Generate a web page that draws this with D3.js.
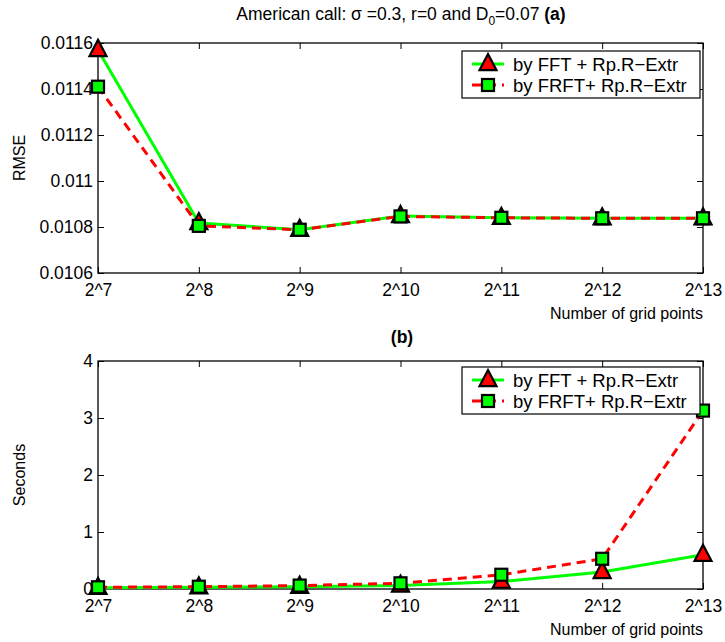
<!DOCTYPE html>
<html>
<head>
<meta charset="utf-8">
<script src="https://cdn.jsdelivr.net/npm/d3@7"></script>
<style>
  html, body { margin: 0; padding: 0; background: #fff; }
  svg { display: block; font-family: "Liberation Sans", Arial, Helvetica, sans-serif; }
</style>
</head>
<body>
<svg id="fig" width="725" height="642"></svg>
<script>
// Grid sizes (powers of two) and their tick labels
const gridExp = [7, 8, 9, 10, 11, 12, 13];
const gridLabels = ["2^7", "2^8", "2^9", "2^10", "2^11", "2^12", "2^13"];

// Panel (a): RMSE
const rmseFFT  = [0.01157, 0.010817, 0.010788, 0.010848, 0.010840, 0.010838, 0.010838];
const rmseFRFT = [0.01141, 0.010805, 0.010788, 0.010846, 0.010840, 0.010838, 0.010838];
const rmseTicks = [0.0106, 0.0108, 0.011, 0.0112, 0.0114, 0.0116];
const rmseTickLabels = ["0.0106", "0.0108", "0.011", "0.0112", "0.0114", "0.0116"];

// Panel (b): CPU time in seconds
const secFFT  = [0.02, 0.03, 0.04, 0.06, 0.13, 0.30, 0.60];
const secFRFT = [0.03, 0.04, 0.06, 0.10, 0.25, 0.53, 3.13];
const secTicks = [0, 1, 2, 3, 4];
const secTickLabels = ["0", "1", "2", "3", "4"];

const seriesNames = ["by FFT + Rp.R\u2212Extr", "by FRFT+ Rp.R\u2212Extr"];

const svg = d3.select("#fig");
const GREEN = "#00ff00", RED = "#ff0000";
const left = 98, right = 703;
const TICK_FS = 17.5, LEG_FS = 18.5, LABEL_FS = 16, TITLE_FS = 17.5;

const x = d3.scaleLinear().domain([7, 13]).range([left, right]);

function triPath(s) {
  // upward triangle centred on the point
  const h = s * 0.95, w = s;
  return `M0,${-h * 0.62}L${w / 2},${h * 0.38}L${-w / 2},${h * 0.38}Z`;
}

function panel(opts) {
  const g = svg.append("g");
  const y = d3.scaleLinear().domain(opts.domain).range([opts.bottom, opts.top]);

  // axes box
  g.append("rect")
    .attr("x", left).attr("y", opts.top)
    .attr("width", right - left).attr("height", opts.bottom - opts.top)
    .attr("fill", "none").attr("stroke", "#000").attr("stroke-width", 1.3);

  const tl = 6;
  // x ticks (inward, bottom and top)
  const xAxisB = d3.axisBottom(x).tickValues(gridExp).tickSize(-tl).tickFormat((d, i) => gridLabels[i]).tickPadding(11);
  const xg = g.append("g").attr("transform", `translate(0,${opts.bottom})`).call(xAxisB);
  xg.select(".domain").remove();
  xg.selectAll("text").attr("font-size", TICK_FS).attr("fill", "#000").attr("font-family", "Liberation Sans, Arial, sans-serif");
  xg.selectAll("line").attr("stroke", "#000");
  const xAxisT = d3.axisTop(x).tickValues(gridExp).tickSize(-tl).tickFormat("");
  const xgt = g.append("g").attr("transform", `translate(0,${opts.top})`).call(xAxisT);
  xgt.select(".domain").remove();
  xgt.selectAll("line").attr("stroke", "#000");

  // y ticks (inward, left and right)
  const yAxisL = d3.axisLeft(y).tickValues(opts.ticks).tickSize(-tl)
    .tickFormat((d, i) => opts.tickLabels[i]);
  const yg = g.append("g").attr("transform", `translate(${left},0)`).call(yAxisL);
  yg.select(".domain").remove();
  yg.selectAll("text").attr("font-size", TICK_FS).attr("fill", "#000").attr("x", -5).attr("font-family", "Liberation Sans, Arial, sans-serif");
  yg.selectAll("line").attr("stroke", "#000");
  const yAxisR = d3.axisRight(y).tickValues(opts.ticks).tickSize(-tl).tickFormat("");
  const ygr = g.append("g").attr("transform", `translate(${right},0)`).call(yAxisR);
  ygr.select(".domain").remove();
  ygr.selectAll("line").attr("stroke", "#000");

  // y label
  g.append("text")
    .attr("transform", `translate(25,${(opts.top + opts.bottom) / 2}) rotate(-90)`)
    .attr("text-anchor", "middle").attr("font-size", LABEL_FS).text(opts.ylabel);

  // x label
  g.append("text")
    .attr("x", right).attr("y", opts.bottom + 46)
    .attr("text-anchor", "end").attr("font-size", LABEL_FS).text("Number of grid points");

  const line = d3.line().x((d, i) => x(gridExp[i])).y(d => y(d));

  // FFT series: green solid with red triangles
  g.append("path").datum(opts.fft).attr("d", line)
    .attr("fill", "none").attr("stroke", GREEN).attr("stroke-width", 3);
  g.selectAll(".tri").data(opts.fft).enter().append("path")
    .attr("transform", (d, i) => `translate(${x(gridExp[i])},${y(d)})`)
    .attr("d", triPath(17)).attr("fill", RED).attr("stroke", "#000").attr("stroke-width", 2.2)
    .attr("stroke-linejoin", "miter");

  // FRFT series: red dashed with green squares
  g.append("path").datum(opts.frft).attr("d", line)
    .attr("fill", "none").attr("stroke", RED).attr("stroke-width", 3).attr("stroke-dasharray", "9,6");
  g.selectAll(".sq").data(opts.frft).enter().append("rect")
    .attr("x", (d, i) => x(gridExp[i]) - 6).attr("y", d => y(d) - 6)
    .attr("width", 12).attr("height", 12)
    .attr("fill", GREEN).attr("stroke", "#000").attr("stroke-width", 2.2);

  // legend
  const lx = 462, ly = opts.legendTop, lw = 238, lh = 47;
  const lg = g.append("g");
  lg.append("rect").attr("x", lx).attr("y", ly).attr("width", lw).attr("height", lh)
    .attr("fill", "#fff").attr("stroke", "#000").attr("stroke-width", 1.2);
  const rows = [ly + 13, ly + 34];
  // row 1
  lg.append("line").attr("x1", lx + 10).attr("x2", lx + 42).attr("y1", rows[0]).attr("y2", rows[0])
    .attr("stroke", GREEN).attr("stroke-width", 3);
  lg.append("path").attr("transform", `translate(${lx + 26},${rows[0]})`).attr("d", triPath(17))
    .attr("fill", RED).attr("stroke", "#000").attr("stroke-width", 2.2);
  lg.append("text").attr("x", lx + 51).attr("y", rows[0] + 6.5).attr("font-size", LEG_FS).text(seriesNames[0]);
  // row 2
  lg.append("line").attr("x1", lx + 10).attr("x2", lx + 42).attr("y1", rows[1]).attr("y2", rows[1])
    .attr("stroke", RED).attr("stroke-width", 3).attr("stroke-dasharray", "9,6");
  lg.append("rect").attr("x", lx + 26 - 6).attr("y", rows[1] - 6).attr("width", 12).attr("height", 12)
    .attr("fill", GREEN).attr("stroke", "#000").attr("stroke-width", 2.2);
  lg.append("text").attr("x", lx + 51).attr("y", rows[1] + 6.5).attr("font-size", LEG_FS).text(seriesNames[1]);
}

// titles
const t = svg.append("text").attr("x", 401).attr("y", 20).attr("text-anchor", "middle").attr("font-size", TITLE_FS);
t.append("tspan").text("American call: \u03c3 =0.3, r=0 and D");
t.append("tspan").attr("font-size", 12).attr("dy", 5).text("0");
t.append("tspan").attr("dy", -5).text("=0.07 ");
t.append("tspan").attr("font-weight", "bold").text("(a)");

svg.append("text").attr("x", 402).attr("y", 343).attr("text-anchor", "middle")
  .attr("font-size", TITLE_FS).attr("font-weight", "bold").text("(b)");

panel({ top: 43, bottom: 273, domain: [0.0106, 0.0116], ticks: rmseTicks, tickLabels: rmseTickLabels,
        fft: rmseFFT, frft: rmseFRFT, ylabel: "RMSE", legendTop: 51 });
panel({ top: 361, bottom: 589, domain: [0, 4], ticks: secTicks, tickLabels: secTickLabels,
        fft: secFFT, frft: secFRFT, ylabel: "Seconds", legendTop: 367 });
</script>
</body>
</html>
